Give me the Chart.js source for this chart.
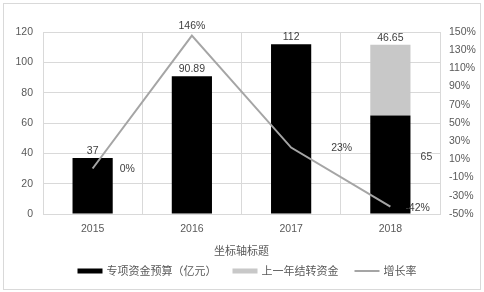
<!DOCTYPE html>
<html>
<head>
<meta charset="utf-8">
<script src="https://cdn.jsdelivr.net/npm/chart.js@4"></script>
<style>
  html, body { margin: 0; padding: 0; background: #fff; }
  #wrap { width: 484px; height: 292px; }
</style>
</head>
<body>
<div id="wrap"><canvas id="chart" width="484" height="292"></canvas></div>
<script>
// data
const years = ['2015', '2016', '2017', '2018'];
const budget = [37, 90.89, 112, 65];
const carryOver = [null, null, null, 46.65];
const growth = [0, 146, 23, -42];

const numFont = '"Liberation Sans", Arial, sans-serif';
const cjkFont = '"Noto Sans CJK SC", "Liberation Sans", sans-serif';
const textColor = '#595959';
const gridColor = '#D9D9D9';

// value labels drawn next to the marks
const valueLabels = {
    id: 'valueLabels',
    afterDatasetsDraw(chart) {
        const ctx = chart.ctx;
        ctx.save();
        ctx.font = '10.5px ' + numFont;
        ctx.fillStyle = '#404040';
        ctx.textBaseline = 'middle';

        // budget bars
        chart.getDatasetMeta(0).data.forEach((bar, i) => {
            const txt = String(budget[i]);
            if (i < 3) {
                ctx.textAlign = 'center';
                ctx.fillText(txt, bar.x, bar.y - 7);
            } else {
                ctx.textAlign = 'center';
                ctx.fillText(txt, bar.x + 36, (bar.y + bar.base) / 2 - 7);
            }
        });

        // carry over on top of the stack
        chart.getDatasetMeta(1).data.forEach((bar, i) => {
            if (carryOver[i] == null) return;
            ctx.textAlign = 'center';
            ctx.fillText(String(carryOver[i]), bar.x, bar.y - 7);
        });

        // growth line
        const dx = [27, 0, 40, 15];
        chart.getDatasetMeta(2).data.forEach((pt, i) => {
            const txt = growth[i] + '%';
            if (i === 1) {
                ctx.textAlign = 'center';
                ctx.fillText(txt, pt.x, pt.y - 10);
            } else {
                ctx.textAlign = 'left';
                ctx.fillText(txt, pt.x + dx[i], pt.y + 1);
            }
        });
        ctx.restore();
    }
};

// outer frame + bottom legend
const frameLegend = {
    id: 'frameLegend',
    beforeDraw(chart) {
        const ctx = chart.ctx;
        ctx.save();
        ctx.fillStyle = '#fff';
        ctx.fillRect(0, 0, chart.width, chart.height);
        ctx.strokeStyle = gridColor;
        ctx.lineWidth = 1;
        ctx.strokeRect(3.5, 3.5, 477, 286);
        ctx.restore();
    },
    afterDraw(chart) {
        const ctx = chart.ctx;
        const items = [
            { text: '专项资金预算（亿元）', type: 'rect', color: '#000000' },
            { text: '上一年结转资金', type: 'rect', color: '#C8C8C8' },
            { text: '增长率', type: 'line', color: '#A5A5A5' }
        ];
        ctx.save();
        ctx.font = '11px ' + cjkFont;
        const markW = 25, gapMark = 4, gapItem = 16;
        let total = 0;
        items.forEach((it, i) => {
            it.w = ctx.measureText(it.text).width;
            total += markW + gapMark + it.w + (i < items.length - 1 ? gapItem : 0);
        });
        let x = 247 - total / 2;
        const y = 271;
        ctx.textBaseline = 'middle';
        ctx.textAlign = 'left';
        items.forEach(it => {
            if (it.type === 'rect') {
                ctx.fillStyle = it.color;
                ctx.fillRect(x, y - 2.5, markW, 5);
            } else {
                ctx.strokeStyle = it.color;
                ctx.lineWidth = 2;
                ctx.beginPath();
                ctx.moveTo(x, y);
                ctx.lineTo(x + markW, y);
                ctx.stroke();
            }
            ctx.fillStyle = textColor;
            ctx.fillText(it.text, x + markW + gapMark, y);
            x += markW + gapMark + it.w + gapItem;
        });
        ctx.restore();
    }
};

new Chart(document.getElementById('chart'), {
    type: 'bar',
    data: {
        labels: years,
        datasets: [{
            label: '专项资金预算（亿元）',
            data: budget,
            backgroundColor: '#000000',
            yAxisID: 'y',
            stack: 's',
            order: 2
        }, {
            label: '上一年结转资金',
            data: carryOver,
            backgroundColor: '#C8C8C8',
            yAxisID: 'y',
            stack: 's',
            order: 2
        }, {
            type: 'line',
            label: '增长率',
            data: growth,
            borderColor: '#A5A5A5',
            borderWidth: 2,
            pointRadius: 0,
            tension: 0,
            fill: false,
            yAxisID: 'y1',
            order: 0
        }]
    },
    options: {
        responsive: false,
        animation: false,
        devicePixelRatio: 1,
        layout: { padding: { top: 32, bottom: 28, left: 0, right: 0 } },
        datasets: {
            bar: { barPercentage: 0.405, categoryPercentage: 1 }
        },
        plugins: {
            legend: { display: false },
            tooltip: { enabled: false }
        },
        scales: {
            x: {
                stacked: true,
                grid: { color: gridColor, drawTicks: false, offset: true },
                border: { color: gridColor },
                ticks: { color: textColor, padding: 9, font: { family: numFont, size: 10.5 } },
                title: {
                    display: true,
                    text: '坐标轴标题',
                    color: textColor,
                    font: { family: cjkFont, size: 11 },
                    padding: { top: 0, bottom: 7 }
                },
                afterFit(scale) { scale.height = 50; }
            },
            y: {
                stacked: true,
                position: 'left',
                min: 0,
                max: 120,
                ticks: { stepSize: 20, color: textColor, padding: 10, font: { family: numFont, size: 10.5 } },
                grid: { color: gridColor, drawTicks: false },
                border: { color: gridColor },
                afterFit(scale) { scale.width = 43; }
            },
            y1: {
                position: 'right',
                min: -50,
                max: 150,
                ticks: {
                    stepSize: 20,
                    color: textColor,
                    padding: 9,
                    font: { family: numFont, size: 10.5 },
                    callback: v => v + '%'
                },
                grid: { display: false, drawTicks: false },
                border: { display: false },
                afterFit(scale) { scale.width = 44; }
            }
        }
    },
    plugins: [frameLegend, valueLabels]
});
</script>
</body>
</html>
